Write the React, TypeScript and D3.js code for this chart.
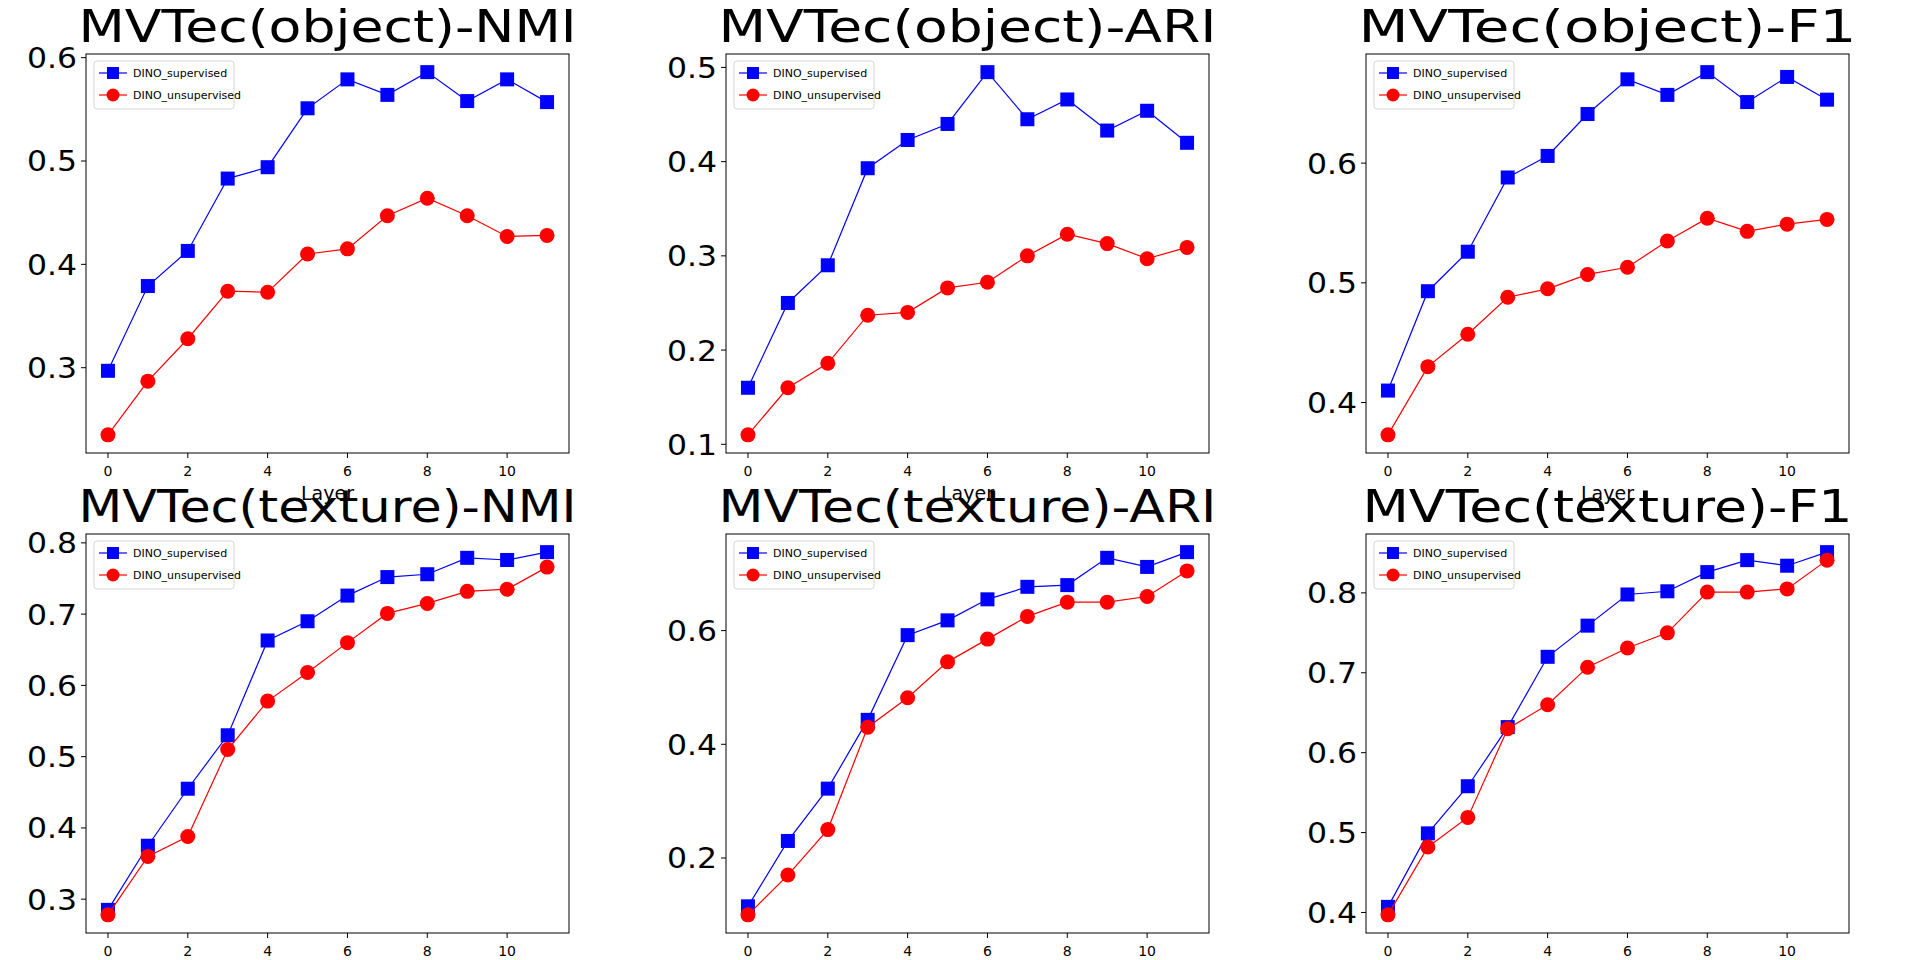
import * as d3 from 'd3';

const layers = d3.range(12);

const titles = [
  'MVTec(object)-NMI', 'MVTec(object)-ARI', 'MVTec(object)-F1',
  'MVTec(texture)-NMI', 'MVTec(texture)-ARI', 'MVTec(texture)-F1',
];

const supervised = [
  [0.297, 0.379, 0.413, 0.483, 0.494, 0.551, 0.579, 0.564, 0.586, 0.558, 0.579, 0.557],
  [0.16, 0.25, 0.29, 0.393, 0.423, 0.44, 0.495, 0.445, 0.466, 0.433, 0.454, 0.42],
  [0.41, 0.493, 0.526, 0.588, 0.606, 0.641, 0.67, 0.657, 0.676, 0.651, 0.672, 0.653],
  [0.285, 0.375, 0.455, 0.53, 0.663, 0.69, 0.726, 0.752, 0.756, 0.779, 0.776, 0.787],
  [0.115, 0.23, 0.322, 0.443, 0.592, 0.618, 0.655, 0.677, 0.68, 0.728, 0.712, 0.738],
  [0.407, 0.499, 0.558, 0.632, 0.72, 0.759, 0.798, 0.802, 0.826, 0.841, 0.834, 0.851],
];

const unsupervised = [
  [0.235, 0.287, 0.328, 0.374, 0.373, 0.41, 0.415, 0.447, 0.464, 0.447, 0.427, 0.428],
  [0.11, 0.16, 0.186, 0.237, 0.24, 0.266, 0.272, 0.3, 0.323, 0.313, 0.297, 0.309],
  [0.373, 0.43, 0.457, 0.488, 0.495, 0.507, 0.513, 0.535, 0.554, 0.543, 0.549, 0.553],
  [0.278, 0.36, 0.388, 0.51, 0.578, 0.618, 0.66, 0.701, 0.715, 0.732, 0.735, 0.766],
  [0.1, 0.17, 0.25, 0.43, 0.482, 0.545, 0.585, 0.625, 0.65, 0.65, 0.66, 0.705],
  [0.397, 0.482, 0.519, 0.63, 0.66, 0.707, 0.731, 0.75, 0.801, 0.801, 0.805, 0.841],
];

const yTicks = [
  [0.3, 0.4, 0.5, 0.6],
  [0.1, 0.2, 0.3, 0.4, 0.5],
  [0.4, 0.5, 0.6],
  [0.3, 0.4, 0.5, 0.6, 0.7, 0.8],
  [0.2, 0.4, 0.6],
  [0.4, 0.5, 0.6, 0.7, 0.8],
];

const xTicks = [0, 2, 4, 6, 8, 10];

const font = 'DejaVu Sans, sans-serif';
const W = 640, H = 480;
const m = { left: 86, right: 569, top: 54, bottom: 453 };

function Panel({ i }: { i: number }) {
  const col = i % 3, row = Math.floor(i / 3);
  const sup = supervised[i], uns = unsupervised[i];
  const all = [...sup, ...uns];
  const lo = d3.min(all)!, hi = d3.max(all)!;
  const pad = (hi - lo) * 0.05;
  const x = d3.scaleLinear().domain([-0.55, 11.55]).range([m.left, m.right]);
  const y = d3.scaleLinear().domain([lo - pad, hi + pad]).range([m.bottom, m.top]);
  const line = d3.line<number>().x((_, k) => x(layers[k])).y(d => y(d));
  return (
    <g transform={`translate(${col * W},${row * H})`}>
      <text x={(m.left + m.right) / 2} y={42} textAnchor="middle" fontSize={44}
        fontFamily={font} textLength={i === 5 ? 490 : 498} lengthAdjust="spacingAndGlyphs">{titles[i]}</text>
      <rect x={m.left} y={m.top} width={m.right - m.left} height={m.bottom - m.top}
        fill="white" stroke="black" strokeWidth={1} />
      {yTicks[i].map(t => (
        <g key={t}>
          <line x1={m.left - 5} x2={m.left} y1={y(t)} y2={y(t)} stroke="black" />
          <text x={m.left - 9} y={y(t)} dy="0.36em" textAnchor="end" fontSize={29}
            fontFamily={font} textLength={50} lengthAdjust="spacingAndGlyphs">{t.toFixed(1)}</text>
        </g>
      ))}
      {xTicks.map(t => (
        <g key={t}>
          <line x1={x(t)} x2={x(t)} y1={m.bottom} y2={m.bottom + 5} stroke="black" />
          <text x={x(t)} y={m.bottom + 23} textAnchor="middle" fontSize={14} fontFamily={font}>{t}</text>
        </g>
      ))}
      <text x={(m.left + m.right) / 2} y={m.bottom + 47} textAnchor="middle" fontSize={19} fontFamily={font}>Layer</text>
      <path d={line(sup)!} fill="none" stroke="blue" strokeWidth={1.2} />
      {sup.map((v, k) => (
        <rect key={k} x={x(layers[k]) - 7} y={y(v) - 7} width={14} height={14} fill="blue" />
      ))}
      <path d={line(uns)!} fill="none" stroke="red" strokeWidth={1.2} />
      {uns.map((v, k) => (
        <circle key={k} cx={x(layers[k])} cy={y(v)} r={7.5} fill="red" />
      ))}
      <g transform={`translate(${m.left + 8},${m.top + 7})`}>
        <rect width={140} height={48} rx={3} fill="white" fillOpacity={0.8} stroke="#d6d6d6" />
        <line x1={5} x2={33} y1={12} y2={12} stroke="blue" strokeWidth={1.2} />
        <rect x={13} y={6} width={12} height={12} fill="blue" />
        <text x={39} y={12} dy="0.35em" fontSize={11} fontFamily={font}>DINO_supervised</text>
        <line x1={5} x2={33} y1={34} y2={34} stroke="red" strokeWidth={1.2} />
        <circle cx={19} cy={34} r={6.5} fill="red" />
        <text x={39} y={34} dy="0.35em" fontSize={11} fontFamily={font}>DINO_unsupervised</text>
      </g>
    </g>
  );
}

export default function App() {
  return (
    <svg width={1920} height={960} style={{ position: 'absolute', left: 0, top: 0, background: 'white' }}>
      {titles.map((_, i) => <Panel key={i} i={i} />)}
    </svg>
  );
}
